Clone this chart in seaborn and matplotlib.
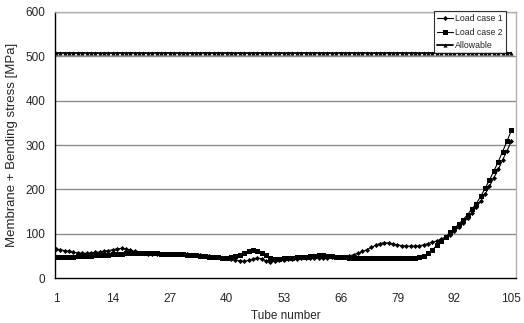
import numpy as np
import pandas as pd
import matplotlib
matplotlib.use("Agg")
import matplotlib.pyplot as plt
import seaborn as sns

# tube numbers 1..105
tubes = list(range(1, 106))

# load case 1 (diamond markers)
load_case_1 = [66, 64, 62, 60, 58, 57, 56, 56, 57, 58,
               59, 61, 62, 64, 66, 67, 66, 63, 60, 57,
               56, 55, 55, 55, 55, 55, 55, 55, 55, 54,
               54, 53, 52, 51, 50, 49, 48, 47, 46, 45,
               43, 41, 39, 38, 40, 43, 46, 43, 39, 37,
               38, 40, 41, 42, 43, 44, 45, 45, 46, 46,
               46, 46, 46, 47, 47, 47, 48, 50, 53, 56,
               60, 64, 69, 74, 78, 80, 79, 77, 75, 73,
               72, 72, 72, 73, 75, 78, 81, 84, 88, 93,
               98, 106, 115, 125, 135, 147, 160, 173, 189, 207,
               226, 245, 266, 287, 308]

# load case 2 (square markers)
load_case_2 = [48, 48, 48, 48, 48, 49, 49, 50, 50, 51,
               52, 53, 53, 54, 55, 55, 56, 56, 56, 56,
               56, 56, 56, 56, 55, 55, 55, 55, 55, 54,
               53, 52, 51, 50, 49, 48, 47, 47, 46, 46,
               47, 50, 53, 57, 61, 63, 62, 57, 51, 46,
               44, 44, 45, 45, 46, 47, 47, 48, 49, 50,
               51, 51, 50, 49, 48, 48, 47, 46, 46, 45,
               45, 45, 45, 45, 45, 45, 45, 45, 45, 45,
               45, 45, 46, 47, 50, 56, 64, 74, 84, 93,
               103, 112, 122, 132, 143, 156, 168, 184, 202, 221,
               241, 262, 285, 308, 333]

allowable = [508] * 105

x_ticks = [1, 14, 27, 40, 53, 66, 79, 92, 105]
y_ticks = [0, 100, 200, 300, 400, 500, 600]

sns.set_style("white")
plt.rcParams['font.family'] = ['Liberation Sans', 'DejaVu Sans']

fig = plt.figure(figsize=(5.24, 3.23), dpi=100)
ax = fig.add_axes([0.105, 0.139, 0.880, 0.824])

# gridlines
for v in y_ticks[1:]:
    ax.axhline(v, color="#8c8c8c", lw=1.0, zorder=0)

sns.lineplot(x=tubes, y=load_case_1, ax=ax, color="black", lw=0.8,
             marker="D", markersize=2.6, markeredgewidth=0, label="Load case 1")
sns.lineplot(x=tubes, y=load_case_2, ax=ax, color="black", lw=0.8,
             marker="s", markersize=3.6, markeredgewidth=0, label="Load case 2")
sns.lineplot(x=tubes, y=allowable, ax=ax, color="black", lw=1.3,
             marker="^", markersize=3.0, markeredgewidth=0, label="Allowable")

ax.set_xlim(0.8, 106.1)
ax.set_ylim(0, 600)
ax.set_xticks(x_ticks)
ax.set_yticks(y_ticks)
ax.tick_params(axis="x", direction="in", length=4, labelsize=8.5, pad=11, color="black")
ax.tick_params(axis="y", length=0, labelsize=8.5, pad=7)

for s in ["left", "bottom"]:
    ax.spines[s].set_color("black")
    ax.spines[s].set_linewidth(1.0)
for s in ["top", "right"]:
    ax.spines[s].set_color("#b0b0b0")
    ax.spines[s].set_linewidth(1.0)

ax.set_xlabel("Tube number", fontsize=8.5, labelpad=3)
ax.set_ylabel("Membrane + Bending stress [MPa]", fontsize=9.5, labelpad=5)

leg = ax.legend(loc="upper right", bbox_to_anchor=(0.978, 1.003), fontsize=6.3,
                frameon=True, fancybox=False, edgecolor="black",
                handlelength=1.8, handletextpad=0.3, borderpad=0.35,
                labelspacing=0.5, borderaxespad=0)
leg.get_frame().set_linewidth(0.8)

fig.savefig("out.png", dpi=100)
